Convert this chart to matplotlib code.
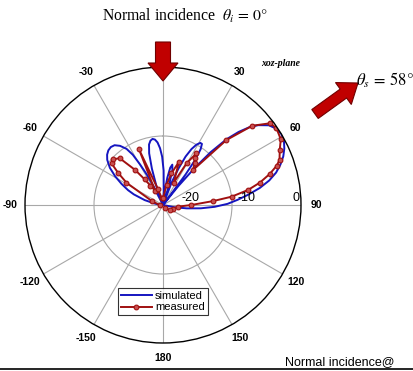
import numpy as np
import matplotlib
matplotlib.use("agg")
from matplotlib import pyplot as plt
from matplotlib.patches import FancyArrow

# simulated pattern (deg, dB)
sim_theta = [-180, -100, -85, -80, -75, -70, -67, -63, -59, -55, -51, -48, -45, -42, -39,
             -36, -33, -31, -29.5, -28, -26.5, -25, -21, -19, -17, -15, -13, -11, -9, -7,
             -5, -3, -1, 1, 3, 5, 7, 9, 11, 13, 15, 17, 19, 21, 23, 25, 27, 29, 31, 32.5,
             34, 35.5, 36.5, 37.5, 39, 40.5, 42, 44, 46, 48, 50, 53, 56, 59, 62, 65, 68,
             71, 74, 77, 80, 83, 86, 89, 92, 95, 98, 101, 105, 180]
sim_db = [-40, -40, -39, -37.5, -34.5, -31, -29, -26.5, -23.8, -21.2, -19.2, -18.2, -17.6, -17.4, -17.7,
          -18.8, -20.6, -23, -26.5, -30, -34, -40, -40, -34, -29, -24.5, -22, -21, -20.6, -20.9,
          -21.8, -23.5, -26, -30, -36, -40, -36, -32, -29, -28, -29.5, -34, -40, -33, -28.5, -24.5, -21.8, -20, -19, -19,
          -20.5, -24, -29, -40, -33, -26, -19.5, -13.5, -9.5, -6.3, -4, -1.6, -0.4, 0, -0.3, -1.2, -2.4,
          -4, -5.9, -8.4, -11.5, -15, -18.3, -21.3, -25, -29, -33, -36.5, -40, -40]

# measured pattern (deg, dB)
meas_theta = [-90, -70, -58.6, -54.3, -51, -47.6, -42.8, -38.5, -35.5, -33, -29, -23.3, -18, -10,
              0, 10, 15, 20.3, 25.6, 29.5, 32.9, 34.2, 37.2, 40.6, 44.3, 48.4, 52.7, 55.9, 60.8,
              64.8, 68.9, 71, 73.8, 77, 80, 83.1, 85.5, 90, 96, 110, 127, 150]
meas_db = [-39, -36.5, -27.6, -23.9, -20.8, -20.4, -21.5, -27, -30.9, -33.3, -35.2, -22.4, -35, -38,
           -38, -34, -30.5, -26.6, -32.8, -26, -22.2, -23.6, -24.8, -26.7, -13.7, -5.4, -0.9, -0.3, -0.9,
           -2.6, -3.8, -5.2, -7.8, -11.2, -15, -20, -25.4, -31.8, -35.5, -37, -37.6, -39]

angle_ticks = [0, 30, 60, 90, 120, 150, 180, 210, 240, 270, 300, 330]
angle_labels = ["", "30", "60", "90", "120", "150", "180", "-150", "-120", "-90", "-60", "-30"]
ring_labels = ["-20", "-10", "0"]

W, H = 414, 371
fig = plt.figure(figsize=(W / 100, H / 100), dpi=100)
cx, cy, R = 163, 205, 138
ax = fig.add_axes([(cx - R) / W, (H - cy - R) / H, 2 * R / W, 2 * R / H], projection="polar")
ax.set_theta_zero_location("N")
ax.set_theta_direction(-1)
ax.set_rlim(-40, 0)
ax.set_rticks([-20])
ax.set_yticklabels([])
ax.set_thetagrids(angle_ticks, labels=angle_labels, family="Liberation Sans",
                  fontweight="bold", fontsize=7.5)
ax.tick_params(axis="x", pad=0.5)
ax.grid(True, color="#a8a8a8", linewidth=0.8)
ax.spines["polar"].set_color("black")
ax.spines["polar"].set_linewidth(1.0)

ax.plot(np.deg2rad(sim_theta), sim_db, color="#1515c0", lw=1.4, label="simulated")
ax.plot(np.deg2rad(meas_theta), meas_db, color="#a01010", lw=1.4, marker="o", ms=3.4,
        mfc="#c85050", mec="#a01010", mew=0.8, label="measured")

for lab, xa in zip(ring_labels, [0.601, 0.804, 0.982]):
    ax.text(xa, 0.527, lab, transform=ax.transAxes, ha="center", va="center",
            fontsize=9, family="Liberation Sans", color="black")

leg = ax.legend(loc="upper left", bbox_to_anchor=((118 - cx + R) / (2 * R), (cy + R - 288) / (2 * R)),
                prop={"family": "Liberation Sans", "size": 8}, frameon=True, fancybox=False,
                borderpad=0.25, handlelength=2.8, handletextpad=0.3, labelspacing=0.15,
                borderaxespad=0, numpoints=1)
leg.get_frame().set_edgecolor("black")
leg.get_frame().set_linewidth(0.8)

# overlay in pixel units for arrows and annotations
ov = fig.add_axes([0, 0, 1, 1], facecolor="none")
ov.set_xlim(0, W)
ov.set_ylim(H, 0)
ov.axis("off")
ov.add_patch(FancyArrow(163, 42, 0, 39, width=15, head_width=30, head_length=18,
                        length_includes_head=True, fc="#c00000", ec="#700000", lw=0.8))
ov.add_patch(FancyArrow(315, 114, 43, -31, width=11, head_width=27, head_length=18,
                        length_includes_head=True, fc="#c00000", ec="#700000", lw=0.8))

plt.rcParams["mathtext.fontset"] = "stix"
ov.text(185, 16, r"Normal incidence  $\theta_i\,=\,0°$", ha="center", va="center",
        fontsize=11.3, family="Liberation Serif")
ov.text(281, 63, "xoz-plane", ha="center", va="center", fontsize=7,
        family="Liberation Serif", style="italic", fontweight="bold")
ov.text(356, 80, r"$\theta_s\,=\,58°$", ha="left", va="center", fontsize=12)
ov.text(285, 362, "Normal incidence@", ha="left", va="center", fontsize=9, family="Liberation Sans")
ov.plot([0, W], [369, 369], color="black", lw=1.2)

fig.savefig("out.png", dpi=100)
